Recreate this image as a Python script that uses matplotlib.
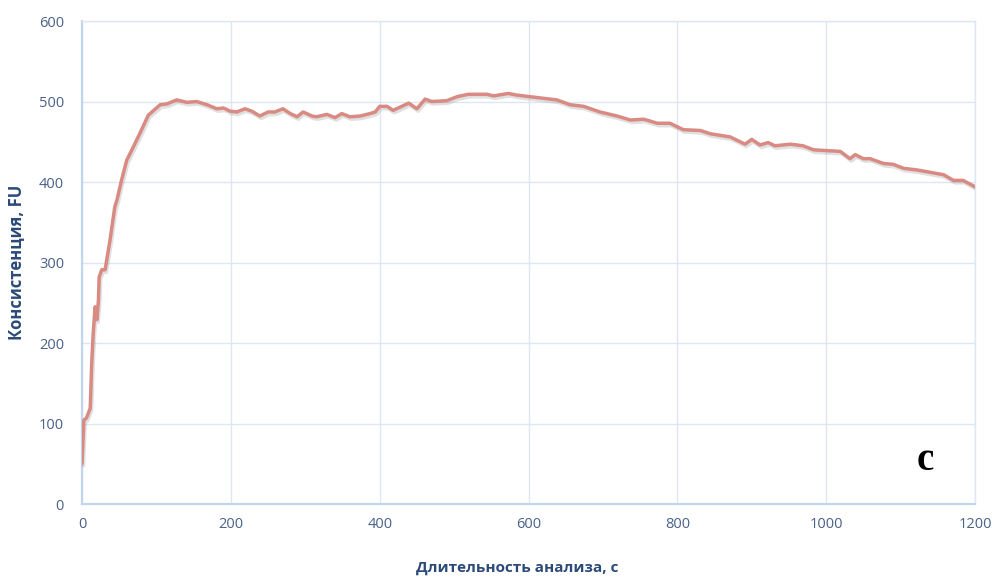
import matplotlib
matplotlib.use("Agg")
import matplotlib.pyplot as plt
import matplotlib.patheffects as pe

time_s = [0, 2.4, 6, 11, 13, 15, 17.5, 20, 22, 23, 26.5, 31, 37.6, 44, 47, 53, 60, 67, 78, 89,
          105, 114, 127, 141, 154, 168, 181, 190, 199, 208, 219, 228, 239, 250, 259, 270, 280,
          289, 297, 309, 315, 329, 340, 349, 360, 374, 387, 394, 400, 410, 418, 439, 450, 461,
          470, 490, 504, 519, 544, 553, 573, 584, 602, 620, 638, 656, 674, 696, 719, 737, 755,
          773, 790, 808, 831, 844, 871, 891, 900, 911, 922, 931, 952, 969, 983, 1001, 1019,
          1032, 1039, 1050, 1059, 1077, 1090, 1104, 1122, 1140, 1158, 1171, 1184, 1200]
consistency_fu = [51, 104, 107, 119, 175, 212, 245, 229, 253, 282, 291, 291, 328, 369, 378, 402,
                  427, 440, 461, 483, 496, 497, 502, 499, 500, 496, 491, 492, 488, 487, 491,
                  488, 482, 487, 487, 491, 485, 481, 487, 482, 481, 484, 480, 485, 481, 482,
                  485, 487, 494, 494, 489, 498, 491, 503, 500, 501, 506, 509, 509, 507, 510,
                  508, 506, 504, 502, 496, 494, 487, 482, 477, 478, 473, 473, 465, 464, 460,
                  456, 447, 453, 446, 449, 445, 447, 445, 440, 439, 438, 429, 434, 429, 429,
                  423, 422, 417, 415, 412, 409, 402, 402, 394]

x_ticks = [0, 200, 400, 600, 800, 1000, 1200]
y_ticks = [0, 100, 200, 300, 400, 500, 600]
x_label = "Длительность анализа, с"
y_label = "Консистенция, FU"
panel_letter = "c"

plt.rcParams['font.family'] = ['Open Sans', 'DejaVu Sans']

fig = plt.figure(figsize=(10.03, 5.79), dpi=100)
ax = fig.add_axes([0.0818, 0.1295, 0.8903, 0.8342])

line_color = '#D98A82'
ax.plot(time_s, consistency_fu, color=line_color, lw=2.5, solid_joinstyle='round',
        zorder=3,
        path_effects=[pe.SimpleLineShadow(offset=(1.0, -1.8), shadow_color='#999999', alpha=0.3),
                      pe.Normal()])

ax.set_xlim(0, 1200)
ax.set_ylim(0, 600)
ax.set_xticks(x_ticks)
ax.set_yticks(y_ticks)

grid_color = '#DDE7F3'
ax.grid(True, color=grid_color, lw=1.0, zorder=0)
ax.set_axisbelow(True)
for s in ['top', 'right']:
    ax.spines[s].set_color(grid_color)
    ax.spines[s].set_linewidth(1.0)
for s in ['left', 'bottom']:
    ax.spines[s].set_color('#C3D5EC')
    ax.spines[s].set_linewidth(1.6)

tick_color = '#4A6288'
ax.tick_params(axis='both', length=0, labelsize=10.5, labelcolor=tick_color)
ax.tick_params(axis='y', pad=13)
ax.tick_params(axis='x', pad=9)

label_color = '#2B4A78'
ax.set_xlabel(x_label, fontsize=11, fontweight='bold', color=label_color, labelpad=20)
ax.set_ylabel(y_label, fontsize=12, fontweight='bold', color=label_color, labelpad=9)
ax.xaxis.set_label_coords(0.487, -0.118)

ax.text(0.944, 0.0704, panel_letter, transform=ax.transAxes, ha='center', va='baseline',
        fontsize=28, fontweight='bold', family='Liberation Serif', color='black')

fig.savefig('out.png', dpi=100, facecolor='white')
